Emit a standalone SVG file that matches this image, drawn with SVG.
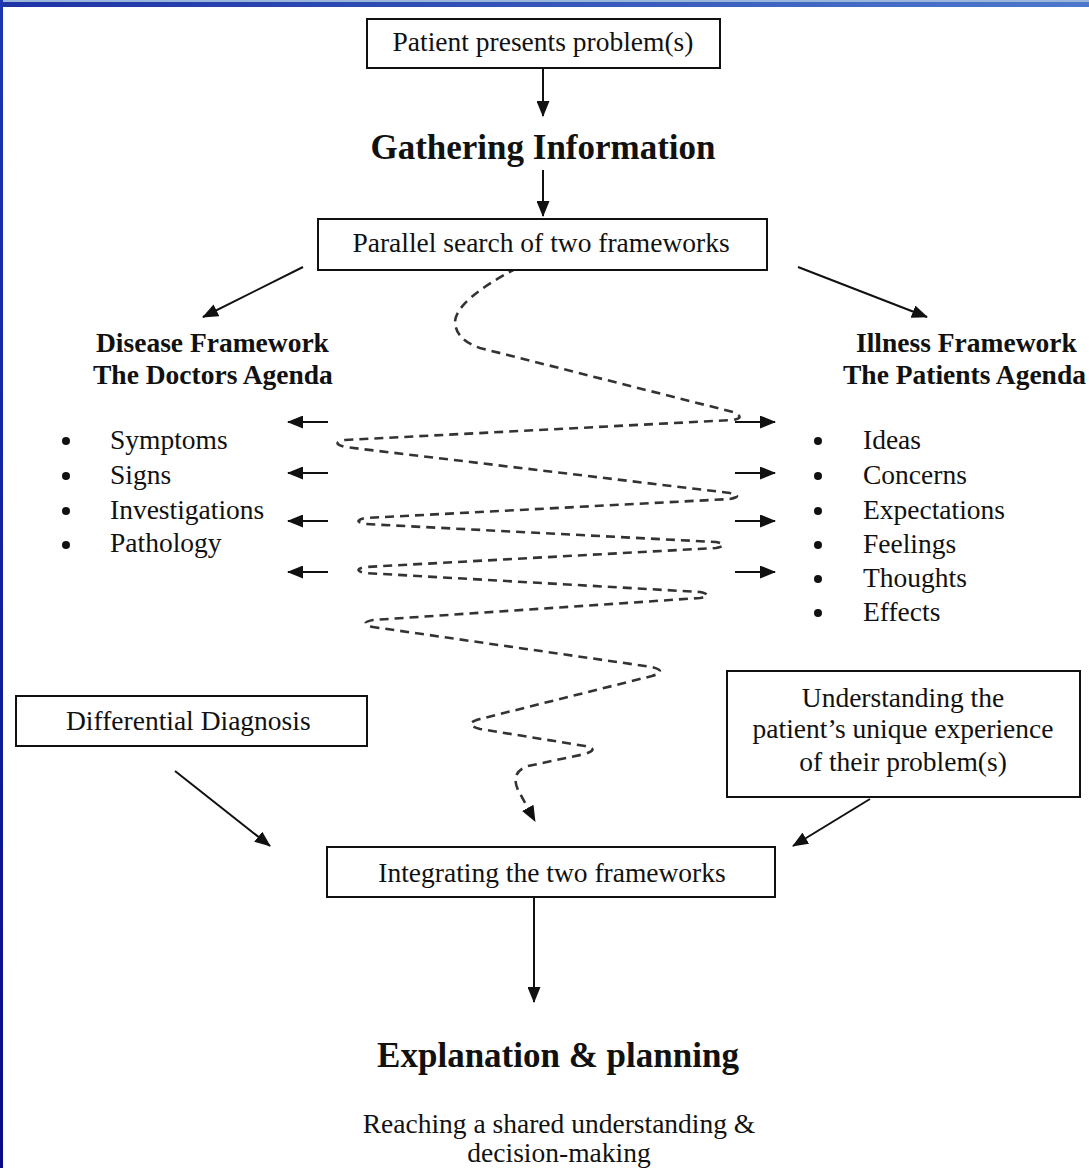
<svg xmlns="http://www.w3.org/2000/svg" width="1089" height="1168" viewBox="0 0 1089 1168">
  <style>
    .box { fill: #fff; stroke: #111; stroke-width: 2; }
    .t { font-family: "Liberation Serif", "Times New Roman", serif; font-size: 27.5px; fill: #111; }
    .h { font-family: "Liberation Serif", "Times New Roman", serif; font-size: 27.5px; font-weight: bold; fill: #111; }
    .big { font-family: "Liberation Serif", "Times New Roman", serif; font-size: 35px; font-weight: bold; fill: #111; }
    .mid { text-anchor: middle; }
    .line { fill: none; stroke: #111; stroke-width: 2; }
    .wave { fill: none; stroke: #333; stroke-width: 2.6; stroke-dasharray: 9 6; }
  </style>
  <defs>
    <linearGradient id="topbar" x1="0" y1="0" x2="1" y2="0">
      <stop offset="0" stop-color="#1d33a6"/>
      <stop offset="1" stop-color="#4d78cc"/>
    </linearGradient>
    <linearGradient id="sidebar" x1="0" y1="0" x2="0" y2="1">
      <stop offset="0" stop-color="#1d36b0"/>
      <stop offset="1" stop-color="#0a0a86"/>
    </linearGradient>
    <marker id="arrow" viewBox="0 0 16 13" refX="15" refY="6.5" markerWidth="16" markerHeight="13" markerUnits="userSpaceOnUse" orient="auto">
      <path d="M0,0 L16,6.5 L0,13 Z" fill="#111"/>
    </marker>
  </defs>

  <rect width="1089" height="1168" fill="#fff"/>

  <!-- window frame -->
  <rect x="0" y="0" width="1089" height="2" fill="#9ab6da"/>
  <rect x="0" y="2" width="1089" height="5" fill="url(#topbar)"/>
  <rect x="0" y="0" width="3" height="1168" fill="url(#sidebar)"/>

  <!-- connectors -->
  <g id="connectors">
    <line class="line" x1="543" y1="68" x2="543" y2="116" marker-end="url(#arrow)"/>
    <line class="line" x1="543" y1="170" x2="543" y2="216" marker-end="url(#arrow)"/>
    <line class="line" x1="303" y1="267" x2="203" y2="317" marker-end="url(#arrow)"/>
    <line class="line" x1="798" y1="267" x2="927" y2="317" marker-end="url(#arrow)"/>

    <line class="line" x1="328" y1="422" x2="288" y2="422" marker-end="url(#arrow)"/>
    <line class="line" x1="328" y1="473" x2="288" y2="473" marker-end="url(#arrow)"/>
    <line class="line" x1="328" y1="521" x2="288" y2="521" marker-end="url(#arrow)"/>
    <line class="line" x1="328" y1="572" x2="288" y2="572" marker-end="url(#arrow)"/>

    <line class="line" x1="735" y1="422" x2="775" y2="422" marker-end="url(#arrow)"/>
    <line class="line" x1="735" y1="473" x2="775" y2="473" marker-end="url(#arrow)"/>
    <line class="line" x1="735" y1="521" x2="775" y2="521" marker-end="url(#arrow)"/>
    <line class="line" x1="735" y1="572" x2="775" y2="572" marker-end="url(#arrow)"/>

    <!-- back-and-forth search between the two frameworks -->
    <path class="wave" marker-end="url(#arrow)" d="M517,268 Q456,300 455,322 Q456,340 480,348 L733,412 Q746,418 733,420 L345,440 Q330,443 345,447 L730,493 Q744,496 730,499 L365,518 Q352,521 365,524 L716,542 Q730,545 716,548 L365,567 Q352,570 365,573 L700,592 Q714,595 700,598 L373,620 Q358,623 373,627 L652,667 Q668,671 652,676 L480,719 Q462,724 480,729 L585,746 Q600,749 585,754 L528,766 Q510,772 518,790 L535,821"/>

    <line class="line" x1="175" y1="771" x2="270" y2="846" marker-end="url(#arrow)"/>
    <line class="line" x1="870" y1="799" x2="793" y2="846" marker-end="url(#arrow)"/>
    <line class="line" x1="534" y1="898" x2="534" y2="1002" marker-end="url(#arrow)"/>
  </g>

  <g id="patient-presents">
    <rect class="box" x="367" y="19" width="353" height="49"/>
    <text class="t mid" x="543" y="51">Patient presents problem(s)</text>
  </g>

  <g id="gathering-information">
    <text class="big mid" x="543" y="159">Gathering Information</text>
  </g>

  <g id="parallel-search">
    <rect class="box" x="318" y="219" width="449" height="51"/>
    <text class="t mid" x="541" y="252">Parallel search of two frameworks</text>
  </g>

  <g id="disease-framework">
    <text class="h" x="96" y="352">Disease Framework</text>
    <text class="h" x="93" y="384">The Doctors Agenda</text>
    <circle cx="66" cy="441" r="4" fill="#111"/>
    <circle cx="66" cy="476" r="4" fill="#111"/>
    <circle cx="66" cy="511" r="4" fill="#111"/>
    <circle cx="66" cy="545" r="4" fill="#111"/>
    <text class="t" x="110" y="449">Symptoms</text>
    <text class="t" x="110" y="484">Signs</text>
    <text class="t" x="110" y="519">Investigations</text>
    <text class="t" x="110" y="552">Pathology</text>
  </g>

  <g id="illness-framework">
    <text class="h" x="856" y="352">Illness Framework</text>
    <text class="h" x="843" y="384">The Patients Agenda</text>
    <circle cx="818" cy="441" r="4" fill="#111"/>
    <circle cx="818" cy="476" r="4" fill="#111"/>
    <circle cx="818" cy="511" r="4" fill="#111"/>
    <circle cx="818" cy="545" r="4" fill="#111"/>
    <circle cx="818" cy="579" r="4" fill="#111"/>
    <circle cx="818" cy="613" r="4" fill="#111"/>
    <text class="t" x="863" y="449">Ideas</text>
    <text class="t" x="863" y="484">Concerns</text>
    <text class="t" x="863" y="519">Expectations</text>
    <text class="t" x="863" y="553">Feelings</text>
    <text class="t" x="863" y="587">Thoughts</text>
    <text class="t" x="863" y="621">Effects</text>
  </g>

  <g id="differential-diagnosis">
    <rect class="box" x="16" y="696" width="351" height="50"/>
    <text class="t" x="66" y="730">Differential Diagnosis</text>
  </g>

  <g id="unique-experience">
    <rect class="box" x="727" y="671" width="353" height="126"/>
    <text class="t mid" x="903" y="707">Understanding the</text>
    <text class="t mid" x="903" y="738">patient’s unique experience</text>
    <text class="t mid" x="903" y="771">of their problem(s)</text>
  </g>

  <g id="integrating">
    <rect class="box" x="327" y="847" width="448" height="50"/>
    <text class="t mid" x="552" y="882">Integrating the two frameworks</text>
  </g>

  <g id="explanation-planning">
    <text class="big mid" x="558" y="1067">Explanation &amp; planning</text>
    <text class="t mid" x="559" y="1133">Reaching a shared understanding &amp;</text>
    <text class="t mid" x="559" y="1162">decision-making</text>
  </g>
</svg>
